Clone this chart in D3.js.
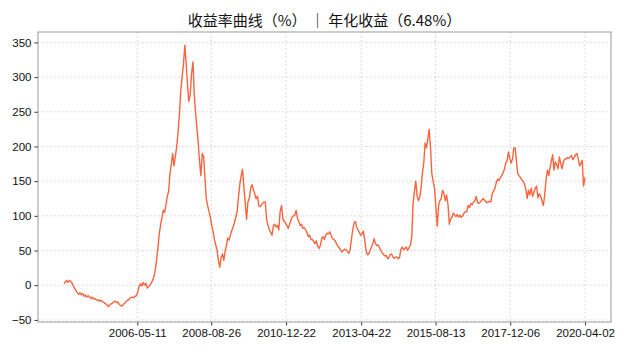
<!DOCTYPE html>
<html>
<head>
<meta charset="utf-8">
<script src="https://cdn.jsdelivr.net/npm/d3@7"></script>
<style>
    body { margin: 0; background: #fff; }
    #chart-area text { font-family: "Liberation Sans", Arial, sans-serif; }
    #chart-area .title { font-family: "Noto Sans CJK SC", sans-serif; }
</style>
</head>
<body>
<div id="chart-area"></div>
<script>

// semi-monthly samples (1st / 16th of each month), first sample on 2004-02-01
let startMonth = "2004-02-01";
let returns = [
    2, 5, 7, 4, 7, 6, 3, -1, -5, -8, -11, -13, -11, -14, -12, -16, -14, -17, -15, -17,
    -19, -17, -20, -19, -21, -22, -21, -23, -22, -24, -25, -27, -28, -31, -29, -27, -26, -24, -23, -25,
    -24, -27, -29, -30, -28, -26, -24, -22, -21, -19, -18, -17, -18, -16, -15, -10, -2, 2, -1, 4,
    0, 3, -4, -2, 0, 3, 7, 12, 22, 37, 55, 75, 88, 98, 108, 105, 115, 128, 135, 160,
    175, 190, 172, 185, 200, 220, 247, 280, 300, 318, 346, 320, 290, 265, 275, 305, 322, 275, 250, 228,
    205, 178, 158, 190, 185, 155, 125, 115, 106, 98, 86, 78, 66, 58, 50, 35, 26, 40, 45, 36,
    50, 58, 68, 65, 72, 79, 84, 90, 98, 106, 127, 145, 158, 167, 140, 118, 95, 120, 125, 140,
    145, 138, 132, 125, 128, 115, 113, 115, 118, 120, 120, 95, 86, 80, 76, 72, 86, 88, 84, 86,
    80, 106, 115, 96, 92, 90, 86, 82, 88, 94, 98, 100, 101, 108, 96, 92, 86, 88, 82, 83,
    80, 76, 70, 72, 66, 66, 63, 60, 64, 56, 53, 58, 68, 70, 66, 72, 75, 74, 77, 72,
    67, 66, 64, 60, 56, 54, 51, 48, 50, 52, 51, 49, 46, 50, 66, 80, 90, 92, 84, 80,
    76, 72, 74, 78, 65, 50, 44, 45, 50, 55, 60, 67, 60, 57, 58, 54, 50, 47, 44, 42,
    43, 38, 40, 44, 45, 41, 39, 40, 41, 38, 40, 52, 55, 51, 53, 55, 50, 54, 58, 70,
    118, 135, 150, 128, 122, 128, 140, 161, 176, 205, 198, 210, 225, 200, 161, 150, 140, 113, 85, 115,
    122, 125, 137, 132, 122, 130, 116, 88, 96, 98, 104, 101, 99, 102, 98, 101, 98, 100, 104, 106,
    106, 115, 112, 118, 116, 120, 122, 128, 119, 118, 120, 122, 125, 123, 121, 119, 120, 121, 120, 132,
    136, 140, 148, 153, 151, 155, 158, 162, 167, 176, 180, 192, 183, 176, 182, 198, 198, 176, 161, 158,
    155, 152, 150, 146, 138, 125, 137, 130, 140, 128, 134, 140, 143, 126, 132, 128, 122, 115, 130, 152,
    166, 158, 168, 178, 188, 166, 178, 174, 168, 185, 176, 168, 178, 182, 182, 184, 183, 185, 187, 181,
    184, 188, 190, 182, 172, 176, 180, 143, 155
];
let tickDates = ["2006-05-11", "2008-08-26", "2010-12-22", "2013-04-22", "2015-08-13", "2017-12-06", "2020-04-02"];
let yTicks = [-50, 0, 50, 100, 150, 200, 250, 300, 350];
let yLimits = [-53, 365];
let titleText = "收益率曲线（%） ｜ 年化收益（6.48%）";


class ReturnVis {

    constructor(parentElement, dates, values) {
        this.parentElement = parentElement;
        this.dates = dates;
        this.values = values;
        this.initVis();
    }

    initVis () {
        let vis = this;

        vis.margin = { top: 32, right: 29, bottom: 32, left: 38 };
        vis.width = 640 - vis.margin.left - vis.margin.right;
        vis.height = 354 - vis.margin.top - vis.margin.bottom;

        vis.svg = d3.select("#" + vis.parentElement).append("svg")
            .attr("width", 640)
            .attr("height", 354)
            .append("g")
            .attr("transform", "translate(" + vis.margin.left + "," + vis.margin.top + ")");

        vis.displayData = vis.dates.map((d, i) => ({ date: d, value: vis.values[i] }));

        // matplotlib style 5% padding on the date axis
        let ext = d3.extent(vis.dates);
        let pad = (ext[1] - ext[0]) * 0.05;
        vis.x = d3.scaleTime()
            .domain([new Date(+ext[0] - pad), new Date(+ext[1] + pad)])
            .range([0, vis.width]);

        vis.y = d3.scaleLinear()
            .domain(yLimits)
            .range([vis.height, 0]);

        let parse = d3.timeParse("%Y-%m-%d");
        vis.tickDates = tickDates.map(parse);

        // grid
        vis.svg.append("g")
            .selectAll("line.ygrid")
            .data(yTicks)
            .enter().append("line")
            .attr("class", "ygrid")
            .attr("x1", 0).attr("x2", vis.width)
            .attr("y1", d => vis.y(d)).attr("y2", d => vis.y(d))
            .attr("stroke", "#d0d0d0")
            .attr("stroke-dasharray", "1.5,2.5");

        vis.svg.append("g")
            .selectAll("line.xgrid")
            .data(vis.tickDates)
            .enter().append("line")
            .attr("class", "xgrid")
            .attr("y1", 0).attr("y2", vis.height)
            .attr("x1", d => vis.x(d)).attr("x2", d => vis.x(d))
            .attr("stroke", "#d0d0d0")
            .attr("stroke-dasharray", "1.5,2.5");

        // axes
        let xAxis = vis.svg.append("g")
            .attr("transform", "translate(0," + vis.height + ")")
            .call(d3.axisBottom(vis.x).tickValues(vis.tickDates).tickFormat(d3.timeFormat("%Y-%m-%d")).tickSize(3.5).tickPadding(3));
        let yAxis = vis.svg.append("g")
            .call(d3.axisLeft(vis.y).tickValues(yTicks).tickFormat(d3.format("d")).tickSize(3.5).tickPadding(3));

        [xAxis, yAxis].forEach(a => {
            a.select(".domain").remove();
            a.selectAll("line").attr("stroke", "#333");
            a.selectAll("text").attr("font-size", "11.5px").attr("fill", "#111");
        });

        vis.svg.append("rect")
            .attr("width", vis.width)
            .attr("height", vis.height)
            .attr("fill", "none")
            .attr("stroke", "#999");

        vis.svg.append("text")
            .attr("class", "title")
            .attr("x", vis.width / 2)
            .attr("y", -6)
            .attr("text-anchor", "middle")
            .attr("font-size", "15px")
            .attr("fill", "#111")
            .text(titleText);

        vis.wrangleData();
    }

    wrangleData () {
        let vis = this;
        vis.updateVis();
    }

    updateVis () {
        let vis = this;

        let line = d3.line()
            .x(d => vis.x(d.date))
            .y(d => vis.y(d.value));

        vis.svg.append("path")
            .datum(vis.displayData)
            .attr("d", line)
            .attr("fill", "none")
            .attr("stroke", "#f9643f")
            .attr("stroke-width", 1.4)
            .attr("stroke-linejoin", "round");
    }
}

// sample dates: 1st and 16th of each month
let start = d3.timeParse("%Y-%m-%d")(startMonth);
let sampleDates = returns.map((v, i) => {
    let m = d3.timeMonth.offset(start, Math.floor(i / 2));
    return i % 2 === 0 ? m : d3.timeDay.offset(m, 15);
});

new ReturnVis("chart-area", sampleDates, returns);

</script>
</body>
</html>
